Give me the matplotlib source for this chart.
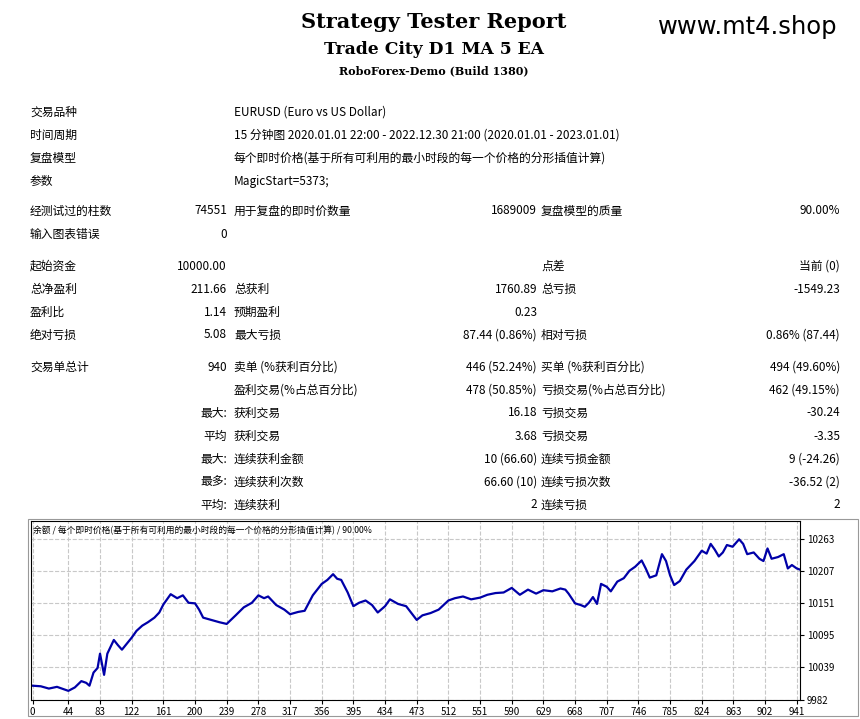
import matplotlib.pyplot as plt
from matplotlib.patches import Rectangle

plt.rcParams['font.family'] = ['Noto Sans CJK SC', 'DejaVu Sans']

# balance curve (trade number, balance)
trade_idx = [0, 10, 20, 30, 44, 52, 60, 66, 70, 75, 80, 83, 88, 92, 100, 105, 110, 122, 128, 135,
             142, 150, 156, 161, 170, 178, 185, 192, 200, 205, 210, 220, 230, 239, 250, 260, 270, 278,
             285, 290, 300, 310, 317, 327, 335, 345, 356, 363, 370, 375, 380, 388, 395, 402, 410, 418,
             425, 434, 440, 450, 460, 466, 473, 480, 490, 500, 512, 520, 530, 540, 551, 560, 570, 580,
             590, 600, 610, 620, 629, 640, 650, 656, 660, 668, 675, 680, 685, 690, 695, 700, 707, 712,
             720, 728, 735, 742, 750, 755, 760, 768, 775, 780, 785, 790, 797, 805, 815, 824, 830, 835,
             840, 845, 850, 855, 862, 870, 875, 880, 888, 895, 900, 905, 910, 918, 925, 930, 935, 941, 945]
balance = [10007, 10006, 10002, 10005, 9998, 10004, 10015, 10012, 10007, 10030, 10038, 10063, 10026,
           10063, 10087, 10078, 10070, 10091, 10103, 10112, 10118, 10126, 10135, 10149, 10167, 10160,
           10165, 10152, 10151, 10140, 10126, 10122, 10118, 10115, 10130, 10144, 10152, 10165, 10160,
           10163, 10148, 10140, 10132, 10136, 10138, 10165, 10185, 10192, 10202, 10194, 10192, 10170,
           10146, 10152, 10156, 10148, 10135, 10146, 10158, 10150, 10146, 10135, 10122, 10130, 10134,
           10140, 10156, 10160, 10163, 10158, 10161, 10166, 10169, 10170, 10178, 10166, 10175, 10168,
           10174, 10172, 10177, 10175, 10168, 10151, 10148, 10145, 10152, 10162, 10150, 10185, 10180,
           10172, 10189, 10195, 10208, 10215, 10226, 10212, 10196, 10200, 10237, 10225, 10200, 10183,
           10190, 10210, 10225, 10243, 10238, 10255, 10245, 10233, 10240, 10253, 10250, 10263, 10255,
           10237, 10240, 10229, 10225, 10247, 10229, 10232, 10237, 10212, 10218, 10212, 10210]
x_ticks = [0] + list(range(44, 942, 39))
y_ticks = [9982, 10039, 10095, 10151, 10207, 10263]

# report rows: (label1, value1, label2, value2, label3, value3, y pixel)
rows = [
    ("交易品种", None, "EURUSD (Euro vs US Dollar)", None, None, None, 112),
    ("时间周期", None, "15 分钟图 2020.01.01 22:00 - 2022.12.30 21:00 (2020.01.01 - 2023.01.01)", None, None, None, 135),
    ("复盘模型", None, "每个即时价格(基于所有可利用的最小时段的每一个价格的分形插值计算)", None, None, None, 158),
    ("参数", None, "MagicStart=5373;", None, None, None, 181),
    ("经测试过的柱数", "74551", "用于复盘的即时价数量", "1689009", "复盘模型的质量", "90.00%", 211),
    ("输入图表错误", "0", None, None, None, None, 234),
    ("起始资金", "10000.00", None, None, "点差", "当前 (0)", 266),
    ("总净盈利", "211.66", "总获利", "1760.89", "总亏损", "-1549.23", 289),
    ("盈利比", "1.14", "预期盈利", "0.23", None, None, 312),
    ("绝对亏损", "5.08", "最大亏损", "87.44 (0.86%)", "相对亏损", "0.86% (87.44)", 335),
    ("交易单总计", "940", "卖单 (%获利百分比)", "446 (52.24%)", "买单 (%获利百分比)", "494 (49.60%)", 367),
    (None, None, "盈利交易(%占总百分比)", "478 (50.85%)", "亏损交易(%占总百分比)", "462 (49.15%)", 390),
    (None, "最大:", "获利交易", "16.18", "亏损交易", "-30.24", 413),
    (None, "平均", "获利交易", "3.68", "亏损交易", "-3.35", 436),
    (None, "最大:", "连续获利金额", "10 (66.60)", "连续亏损金额", "9 (-24.26)", 459),
    (None, "最多:", "连续获利次数", "66.60 (10)", "连续亏损次数", "-36.52 (2)", 482),
    (None, "平均:", "连续获利", "2", "连续亏损", "2", 505),
]

W, H = 860, 719
fig = plt.figure(figsize=(8.6, 7.19), dpi=100)

def t(x, y, s, **kw):
    fig.text(x / W, 1 - y / H, s, va='center', **kw)

t(434, 22, "Strategy Tester Report", ha='center', fontsize=15, fontweight='bold', family='DejaVu Serif')
t(434, 49, "Trade City D1 MA 5 EA", ha='center', fontsize=12.3, fontweight='bold', family='DejaVu Serif')
t(434, 71, "RoboForex-Demo (Build 1380)", ha='center', fontsize=8, fontweight='bold', family='DejaVu Serif')
t(748, 27, "www.mt4.shop", ha='center', fontsize=17.5, family='DejaVu Sans')

fs = 8.5
for l1, v1, l2, v2, l3, v3, y in rows:
    if l1: t(30, y, l1, fontsize=fs)
    if v1: t(227, y, v1, ha='right', fontsize=fs)
    if l2: t(234, y, l2, fontsize=fs)
    if v2: t(537, y, v2, ha='right', fontsize=fs)
    if l3: t(541, y, l3, fontsize=fs)
    if v3: t(840, y, v3, ha='right', fontsize=fs)

# outer box of chart
fig.patches.append(Rectangle((28 / W, 1 - 716 / H), 830 / W, 197 / H, transform=fig.transFigure,
                             fill=False, edgecolor='#999999', linewidth=0.8))

ax = fig.add_axes([31 / W, 1 - 700 / H, 769 / W, 179 / H])
ax.plot(trade_idx, balance, color='#0000a8', linewidth=1.6)
ax.set_xlim(-2, 945)
ax.set_ylim(9982, 10295)
ax.set_xticks(x_ticks)
ax.set_yticks(y_ticks)
ax.yaxis.tick_right()
ax.tick_params(labelsize=7, length=3, pad=2)
ax.grid(color='#c8c8c8', linestyle='--', linewidth=0.8)
for s in ax.spines.values():
    s.set_linewidth(0.8)
ax.text(0.003, 0.975, "余额 / 每个即时价格(基于所有可利用的最小时段的每一个价格的分形插值计算) / 90.00%",
        transform=ax.transAxes, fontsize=6.3, va='top')

fig.savefig("out.png", dpi=100)
